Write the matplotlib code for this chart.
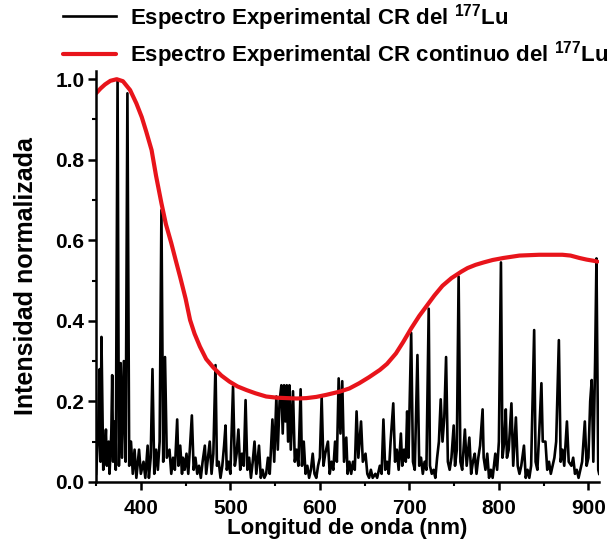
import matplotlib
matplotlib.use("Agg")
import matplotlib.pyplot as plt
from matplotlib.ticker import MultipleLocator

plt.rcParams['font.family'] = ['Liberation Sans', 'DejaVu Sans']
plt.rcParams['font.weight'] = 'bold'
plt.rcParams['mathtext.fontset'] = 'custom'
plt.rcParams['mathtext.rm'] = 'Liberation Sans:bold'
plt.rcParams['mathtext.bf'] = 'Liberation Sans:bold'

# black spectrum (wavelength nm, normalized intensity)
wl = [350, 352, 354, 355, 356, 358, 360, 361, 362, 364, 365, 367, 368, 369, 370, 372, 374, 375.5,
      377.5, 379, 381, 383, 385, 387, 389, 391, 393, 395, 398, 400, 403, 405, 407.6, 409, 411, 413,
      415, 417, 419, 421, 423, 425, 427, 429, 432, 434, 436, 438, 440.6, 442, 444, 446, 447, 449,
      451, 453, 455, 457, 459, 461, 463, 465, 467, 469, 471.5, 473, 475, 477, 479, 481, 483.4, 485,
      487, 489, 491, 493, 494.6, 496, 498, 500, 503, 505, 507, 509, 511, 513, 515, 517, 519, 521,
      523, 525, 527, 529, 532, 534, 536, 538, 540, 542, 544, 547, 549, 551.4, 553, 555, 557, 558.5,
      560, 561.5, 563, 564.5, 566, 567.5, 570, 572, 574, 576, 578.5, 580, 582, 584, 586, 588, 590,
      592, 594, 596, 598, 600, 602, 604, 606, 609, 611, 613, 615, 617, 619, 621, 623, 625, 627,
      629.5, 631, 633, 635, 637, 639, 641, 643, 646, 648, 651, 653, 655, 657, 659, 662, 664, 667,
      669, 671, 673, 675, 677, 679, 682, 684, 686, 688, 690.5, 692, 694, 696, 697.5, 699, 702, 704,
      706, 709, 711, 713, 715, 717, 719, 721.6, 723, 725, 727, 729, 731, 733, 735, 737, 739, 741,
      743, 745, 747, 749.5, 751, 753, 755, 757, 759, 762, 764, 767, 769, 771, 773, 775, 777, 779,
      781.8, 783, 785, 787, 789, 791, 793, 796, 798, 800, 802.3, 804, 806, 807.7, 809, 811, 814,
      816, 819, 821, 823, 825, 828, 830, 832, 834, 836, 839.4, 841, 843, 845, 847.5, 849, 852, 854,
      856, 858, 860, 862, 864, 867, 869, 871, 873, 876, 878, 881, 883, 885, 887, 889, 891, 893, 896,
      898, 900, 902, 903.7, 905.5, 907.5, 909, 911, 912]
inten = [0.02, 0.10, 0.28, 0.05, 0.36, 0.03, 0.08, 0.13, 0.04, 0.10, 0.02, 0.12, 0.265, 0.05, 0.15,
         0.03, 1.00, 0.04, 0.295, 0.06, 0.30, 0.05, 0.965, 0.04, 0.10, 0.02, 0.08, 0.01, 0.08, 0.02,
         0.05, 0.01, 0.09, 0.01, 0.06, 0.28, 0.02, 0.08, 0.03, 0.10, 0.675, 0.05, 0.31, 0.06, 0.08,
         0.02, 0.06, 0.03, 0.155, 0.04, 0.09, 0.02, 0.06, 0.03, 0.07, 0.02, 0.09, 0.165, 0.03, 0.06,
         0.02, 0.04, 0.01, 0.05, 0.09, 0.02, 0.06, 0.10, 0.02, 0.07, 0.29, 0.04, 0.05, 0.01, 0.04,
         0.09, 0.14, 0.03, 0.05, 0.02, 0.237, 0.04, 0.07, 0.13, 0.03, 0.07, 0.04, 0.203, 0.03, 0.06,
         0.01, 0.05, 0.10, 0.02, 0.09, 0.01, 0.03, 0.01, 0.02, 0.06, 0.02, 0.155, 0.05, 0.212, 0.08,
         0.20, 0.24, 0.12, 0.24, 0.15, 0.24, 0.10, 0.24, 0.08, 0.225, 0.05, 0.08, 0.04, 0.23, 0.04,
         0.10, 0.02, 0.04, 0.01, 0.03, 0.07, 0.02, 0.01, 0.04, 0.06, 0.21, 0.04, 0.07, 0.10, 0.02,
         0.05, 0.03, 0.10, 0.05, 0.257, 0.12, 0.25, 0.05, 0.11, 0.02, 0.05, 0.02, 0.05, 0.03, 0.175,
         0.06, 0.15, 0.05, 0.07, 0.02, 0.01, 0.03, 0.01, 0.02, 0.01, 0.04, 0.02, 0.155, 0.03, 0.05,
         0.02, 0.10, 0.195, 0.05, 0.08, 0.03, 0.12, 0.04, 0.08, 0.05, 0.175, 0.06, 0.37, 0.05, 0.03,
         0.315, 0.04, 0.06, 0.02, 0.05, 0.03, 0.43, 0.04, 0.02, 0.03, 0.01, 0.06, 0.10, 0.205, 0.10,
         0.16, 0.31, 0.05, 0.03, 0.06, 0.14, 0.04, 0.08, 0.51, 0.05, 0.03, 0.13, 0.04, 0.11, 0.02,
         0.05, 0.07, 0.02, 0.06, 0.09, 0.18, 0.06, 0.03, 0.07, 0.01, 0.03, 0.01, 0.07, 0.03, 0.10,
         0.545, 0.06, 0.10, 0.18, 0.06, 0.08, 0.195, 0.04, 0.16, 0.04, 0.02, 0.04, 0.09, 0.01, 0.03,
         0.01, 0.04, 0.377, 0.05, 0.03, 0.12, 0.245, 0.10, 0.10, 0.03, 0.05, 0.02, 0.04, 0.06, 0.10,
         0.352, 0.05, 0.08, 0.04, 0.15, 0.05, 0.04, 0.06, 0.02, 0.03, 0.01, 0.03, 0.05, 0.15, 0.04,
         0.06, 0.20, 0.253, 0.05, 0.30, 0.555, 0.03, 0.02]

# red continuous envelope
wl_cont = [350, 355, 360, 366, 373, 380, 388, 395, 401, 406, 412, 417, 423, 428, 434, 439, 444,
           450, 455, 460, 466, 473, 481, 490, 499, 508, 518, 528, 540, 552, 563, 574, 585, 596,
           607, 622, 633, 644, 655, 667, 675, 685, 693, 702, 711, 720, 728, 737, 747, 758, 765,
           774, 783, 793, 805, 823, 845, 871, 880, 890, 898, 906, 910]
int_cont = [0.965, 0.977, 0.987, 0.996, 1.0, 0.995, 0.973, 0.94, 0.906, 0.87, 0.824, 0.76,
            0.692, 0.64, 0.593, 0.55, 0.508, 0.455, 0.402, 0.368, 0.336, 0.305, 0.284, 0.264,
            0.249, 0.237, 0.228, 0.22, 0.212, 0.209, 0.208, 0.207, 0.208, 0.211, 0.216, 0.224,
            0.232, 0.245, 0.26, 0.278, 0.293, 0.319, 0.347, 0.381, 0.412, 0.439, 0.463, 0.487,
            0.506, 0.522, 0.531, 0.539, 0.545, 0.551, 0.556, 0.562, 0.564, 0.564, 0.562, 0.556,
            0.552, 0.549, 0.547]

fig = plt.figure(figsize=(6.12, 5.39), dpi=100)
ax = fig.add_axes([0.157, 0.106, 0.822, 0.762])

ax.plot(wl, inten, color='black', lw=1.9,
        label=r'Espectro Experimental CR del $^{\mathbf{177}}$Lu')
ax.plot(wl_cont, int_cont, color='#e8141b', lw=3.0, solid_capstyle='round',
        label=r'Espectro Experimental CR continuo del $^{\mathbf{177}}$Lu')

ax.set_xlim(350, 912)
ax.set_ylim(0, 1.02)
ax.xaxis.set_major_locator(MultipleLocator(100))
ax.xaxis.set_minor_locator(MultipleLocator(50))
ax.yaxis.set_major_locator(MultipleLocator(0.2))
ax.yaxis.set_minor_locator(MultipleLocator(0.1))
ax.yaxis.set_major_formatter(matplotlib.ticker.FormatStrFormatter('%.1f'))
for s in ['top', 'right']:
    ax.spines[s].set_visible(False)
for s in ['left', 'bottom']:
    ax.spines[s].set_linewidth(1.8)
ax.tick_params(which='major', direction='out', length=5.5, width=1.8, labelsize=15, pad=3)
ax.tick_params(axis='x', which='major', pad=7)
ax.tick_params(which='minor', direction='out', length=3, width=1.5)

ax.set_xlabel('Longitud de onda (nm)', fontsize=16, fontweight='bold', labelpad=0)
ax.set_ylabel('Intensidad normalizada', fontsize=18, fontweight='bold', labelpad=12)

ax.legend(loc='upper left', bbox_to_anchor=(0.103, 0.997), bbox_transform=fig.transFigure,
          frameon=False, fontsize=16, handlelength=2.4, handletextpad=0.6,
          labelspacing=0.3, borderpad=0, borderaxespad=0)

fig.savefig('out.png', dpi=100)
